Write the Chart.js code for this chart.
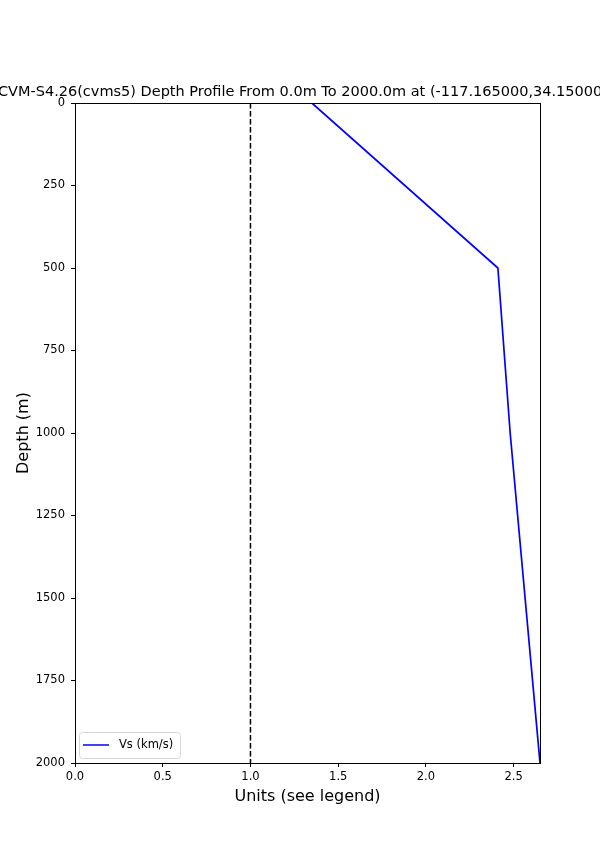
<!DOCTYPE html>
<html>
<head>
<meta charset="utf-8">
<script src="https://cdn.jsdelivr.net/npm/chart.js@4"></script>
<style>
  html, body { margin: 0; padding: 0; background: #fff; }
  canvas { display: block; }
</style>
</head>
<body>
<canvas id="profileChart" width="600" height="857"></canvas>
<script>
// depth profile values
const depths = [0, 500, 1000, 2000];
const vsValues = [1.35, 2.41, 2.48, 2.65];
const refLine = [1, 1];
const refDepths = [0, 2000];
const xTicks = [0, 0.5, 1.0, 1.5, 2.0, 2.5];
const yTicks = [0, 250, 500, 750, 1000, 1250, 1500, 1750, 2000];

const titleText = "CVM-S4.26(cvms5) Depth Profile From 0.0m To 2000.0m at (-117.165000,34.150000)";
const font = "'DejaVu Sans', sans-serif";

// frame, title, axis labels and legend
const decorations = {
  id: "decorations",
  afterDraw(chart) {
    const ctx = chart.ctx;
    const a = chart.chartArea;
    ctx.save();
    ctx.strokeStyle = "#000";
    ctx.lineWidth = 1;
    ctx.strokeRect(Math.round(a.left) + 0.5, Math.round(a.top) + 0.5,
      Math.round(a.right - a.left), Math.round(a.bottom - a.top));

    ctx.fillStyle = "#000";
    ctx.textAlign = "center";
    ctx.textBaseline = "alphabetic";
    ctx.font = "14.5px " + font;
    ctx.fillText(titleText, (a.left + a.right) / 2, a.top - 7);

    ctx.font = "16px " + font;
    ctx.fillText("Units (see legend)", (a.left + a.right) / 2, 801);

    ctx.save();
    ctx.translate(28, (a.top + a.bottom) / 2);
    ctx.rotate(-Math.PI / 2);
    ctx.fillText("Depth (m)", 0, 0);
    ctx.restore();

    // legend box, lower left
    const bx = a.left + 4, by = a.bottom - 31, bw = 101, bh = 26;
    ctx.fillStyle = "rgba(255,255,255,0.8)";
    ctx.strokeStyle = "#d6d6d6";
    ctx.beginPath();
    ctx.roundRect(bx + 0.5, by + 0.5, bw, bh, 3);
    ctx.fill();
    ctx.stroke();
    ctx.strokeStyle = "#0000ff";
    ctx.lineWidth = 1.5;
    ctx.beginPath();
    ctx.moveTo(bx + 4, by + 13);
    ctx.lineTo(bx + 30, by + 13);
    ctx.stroke();
    ctx.fillStyle = "#000";
    ctx.textAlign = "left";
    ctx.textBaseline = "middle";
    ctx.font = "11.5px " + font;
    ctx.fillText("Vs (km/s)", bx + 40, by + 13);
    ctx.restore();
  }
};

new Chart(document.getElementById("profileChart"), {
  type: "line",
  data: {
    datasets: [
      {
        label: "Vs (km/s)",
        data: depths.map((d, i) => ({ x: vsValues[i], y: d })),
        borderColor: "#0000ff",
        borderWidth: 1.7,
        pointRadius: 0,
        fill: false,
        tension: 0
      },
      {
        label: "ref",
        data: refDepths.map((d, i) => ({ x: refLine[i], y: d })),
        borderColor: "#000",
        borderWidth: 1.5,
        borderDash: [5.5, 2.5],
        pointRadius: 0,
        fill: false
      }
    ]
  },
  options: {
    responsive: false,
    animation: false,
    layout: { padding: { top: 103, right: 60, left: 0, bottom: 0 } },
    plugins: {
      legend: { display: false },
      title: { display: false },
      tooltip: { enabled: false }
    },
    scales: {
      x: {
        type: "linear",
        min: 0,
        max: 2.65,
        afterBuildTicks: (s) => { s.ticks = xTicks.map(v => ({ value: v })); },
        afterFit: (s) => { s.height = 94; },
        grid: { drawOnChartArea: false, drawTicks: true, tickLength: 4, color: "#000" },
        border: { color: "#000" },
        ticks: {
          color: "#000",
          padding: 3,
          maxRotation: 0,
          font: { family: font, size: 11.5 },
          callback: (v) => Number(v).toFixed(1)
        }
      },
      y: {
        type: "linear",
        reverse: true,
        min: 0,
        max: 2000,
        afterBuildTicks: (s) => { s.ticks = yTicks.map(v => ({ value: v })); },
        afterFit: (s) => { s.width = 75; },
        grid: { drawOnChartArea: false, drawTicks: true, tickLength: 4, color: "#000" },
        border: { color: "#000" },
        ticks: {
          color: "#000",
          padding: 6,
          font: { family: font, size: 11.5 },
          callback: (v) => String(v)
        }
      }
    }
  },
  plugins: [decorations]
});
</script>
</body>
</html>
